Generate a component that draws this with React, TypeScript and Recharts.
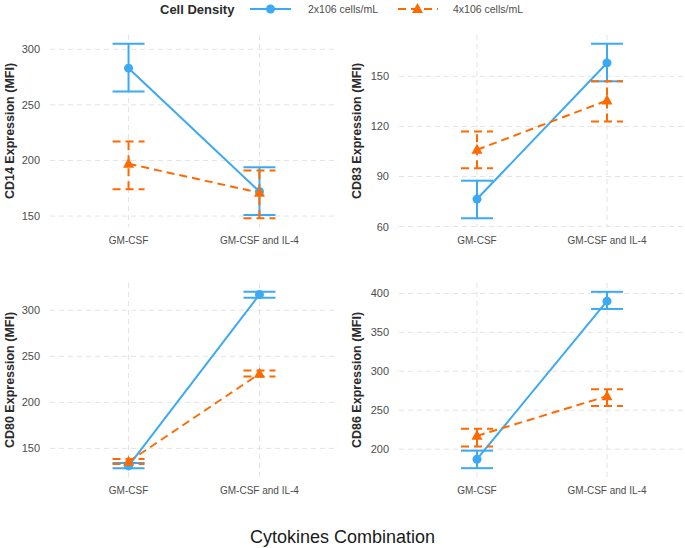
import React from 'react'
import { LineChart, Line, XAxis, YAxis, CartesianGrid, ErrorBar } from 'recharts'

const BLUE = '#3ba9f4'
const ORANGE = '#ff6a00'
const FONT = '"Liberation Sans", Arial, sans-serif'

const categories = ['GM-CSF', 'GM-CSF and IL-4']
const seriesNames = ['2x106 cells/mL', '4x106 cells/mL']

// CD14
const cd14Low = [283, 172]
const cd14LowMin = [262, 151]
const cd14LowMax = [305, 194]
const cd14High = [197, 171]
const cd14HighMin = [174, 148]
const cd14HighMax = [217, 191]

// CD83
const cd83Low = [76.5, 158]
const cd83LowMin = [65, 147]
const cd83LowMax = [87.5, 169.5]
const cd83High = [106, 135.5]
const cd83HighMin = [95, 123]
const cd83HighMax = [117, 147]

// CD80
const cd80Low = [131, 317]
const cd80LowMin = [128.5, 313.5]
const cd80LowMax = [134, 320]
const cd80High = [135.5, 231]
const cd80HighMin = [133, 228]
const cd80HighMax = [138.5, 234.5]

// CD86
const cd86Low = [187, 390]
const cd86LowMin = [175.5, 380]
const cd86LowMax = [198, 402]
const cd86High = [217, 268]
const cd86HighMin = [203.5, 255.5]
const cd86HighMax = [226, 277]

const catTicks = categories.map((_, i) => i + 1)

const buildData = (
  low: number[], lowMin: number[], lowMax: number[],
  high: number[], highMin: number[], highMax: number[]
) =>
  categories.map((c, i) => ({
    x: i + 1,
    name: c,
    low: low[i],
    lowErr: [low[i] - lowMin[i], lowMax[i] - low[i]],
    high: high[i],
    highErr: [high[i] - highMin[i], highMax[i] - high[i]],
  }))

// ggplot style 5% expansion of the data range
const expand = (mins: number[], maxs: number[]) => {
  const lo = Math.min(...mins)
  const hi = Math.max(...maxs)
  const pad = (hi - lo) * 0.05
  return [lo - pad, hi + pad]
}

const Triangle = (props: any) => {
  const { cx, cy, index } = props
  if (cx == null || cy == null) return <g key={index} />
  return (
    <path
      key={index}
      d={`M${cx},${cy - 6} L${cx + 5.5},${cy + 4} L${cx - 5.5},${cy + 4} Z`}
      fill={ORANGE}
    />
  )
}

type PanelProps = {
  left: number
  top: number
  width: number
  height: number
  marginTop: number
  marginRight: number
  yWidth: number
  titleOffset: number
  title: string
  ticks: number[]
  data: any[]
  domain: number[]
}

const Panel = (p: PanelProps) => (
  <div style={{ position: 'absolute', left: p.left, top: p.top }}>
    <LineChart
      width={p.width}
      height={p.height}
      data={p.data}
      margin={{ top: p.marginTop, right: p.marginRight, left: 0, bottom: 0 }}
    >
      <CartesianGrid stroke="#e3e3e3" strokeDasharray="5 4" syncWithTicks />
      <XAxis
        type="number"
        dataKey="x"
        domain={[0.4, 2.6]}
        ticks={catTicks}
        interval={0}
        tickFormatter={(v: number) => categories[v - 1]}
        axisLine={false}
        tickLine={false}
        tickSize={4}
        tickMargin={6}
        height={33}
        tick={{ fontSize: 10, fill: '#4d4d4d', fontFamily: FONT }}
      />
      <YAxis
        type="number"
        domain={p.domain}
        ticks={p.ticks}
        allowDataOverflow
        axisLine={false}
        tickLine={false}
        tickSize={5}
        tickMargin={5}
        width={p.yWidth}
        tick={{ fontSize: 11, fill: '#4d4d4d', fontFamily: FONT }}
        label={{
          value: p.title,
          angle: -90,
          position: 'insideLeft',
          offset: p.titleOffset,
          style: { textAnchor: 'middle', fontSize: 12.5, fontWeight: 'bold', fill: '#2b2b2b', fontFamily: FONT },
        }}
      />
      <Line
        type="linear"
        dataKey="low"
        stroke={BLUE}
        strokeWidth={2}
        dot={{ r: 4.5, fill: BLUE, stroke: BLUE, strokeWidth: 0 }}
        isAnimationActive={false}
      >
        <ErrorBar dataKey="lowErr" direction="y" width={16} stroke={BLUE} strokeWidth={2} />
      </Line>
      <Line
        type="linear"
        dataKey="high"
        stroke={ORANGE}
        strokeWidth={2}
        strokeDasharray="8 5"
        dot={Triangle}
        isAnimationActive={false}
      >
        <ErrorBar dataKey="highErr" direction="y" width={16} stroke={ORANGE} strokeWidth={2} strokeDasharray="8 5" />
      </Line>
    </LineChart>
  </div>
)

const Legend = () => (
  <svg width={685} height={22} style={{ position: 'absolute', left: 0, top: 0 }} fontFamily={FONT}>
    <text x={160} y={14} fontSize={13} fontWeight="bold" fill="#2b2b2b">Cell Density</text>
    <line x1={250} y1={9} x2={291} y2={9} stroke={BLUE} strokeWidth={2} />
    <circle cx={270.5} cy={9} r={4.5} fill={BLUE} />
    <text x={308} y={13} fontSize={10.5} fill="#4d4d4d">{seriesNames[0]}</text>
    <line x1={397} y1={9} x2={438} y2={9} stroke={ORANGE} strokeWidth={2} strokeDasharray="8 5" strokeDashoffset={-1} />
    <path d="M417.5,3 L423,13 L412,13 Z" fill={ORANGE} />
    <text x={453} y={13} fontSize={10.5} fill="#4d4d4d">{seriesNames[1]}</text>
  </svg>
)

export default function App() {
  const d14 = buildData(cd14Low, cd14LowMin, cd14LowMax, cd14High, cd14HighMin, cd14HighMax)
  const d83 = buildData(cd83Low, cd83LowMin, cd83LowMax, cd83High, cd83HighMin, cd83HighMax)
  const d80 = buildData(cd80Low, cd80LowMin, cd80LowMax, cd80High, cd80HighMin, cd80HighMax)
  const d86 = buildData(cd86Low, cd86LowMin, cd86LowMax, cd86High, cd86HighMin, cd86HighMax)

  return (
    <div style={{ position: 'absolute', left: 0, top: 0, width: 685, height: 548, background: '#fff', fontFamily: FONT }}>
      <Legend />
      <Panel
        left={0} top={0} width={340} height={260} marginTop={35} marginRight={2}
        yWidth={50} titleOffset={10} title="CD14 Expression (MFI)"
        ticks={[150, 200, 250, 300]} data={d14}
        domain={expand([...cd14LowMin, ...cd14HighMin], [...cd14LowMax, ...cd14HighMax])}
      />
      <Panel
        left={340} top={0} width={345} height={260} marginTop={35} marginRight={0}
        yWidth={59} titleOffset={17} title="CD83 Expression (MFI)"
        ticks={[60, 90, 120, 150]} data={d83}
        domain={expand([...cd83LowMin, ...cd83HighMin], [...cd83LowMax, ...cd83HighMax])}
      />
      <Panel
        left={0} top={260} width={340} height={250} marginTop={23} marginRight={2}
        yWidth={50} titleOffset={10} title="CD80 Expression (MFI)"
        ticks={[150, 200, 250, 300]} data={d80}
        domain={expand([...cd80LowMin, ...cd80HighMin], [...cd80LowMax, ...cd80HighMax])}
      />
      <Panel
        left={340} top={260} width={345} height={250} marginTop={23} marginRight={0}
        yWidth={59} titleOffset={17} title="CD86 Expression (MFI)"
        ticks={[200, 250, 300, 350, 400]} data={d86}
        domain={expand([...cd86LowMin, ...cd86HighMin], [...cd86LowMax, ...cd86HighMax])}
      />
      <div
        style={{
          position: 'absolute', left: 0, top: 527, width: 685, textAlign: 'center',
          fontSize: 18, color: '#1a1a1a', fontFamily: FONT,
        }}
      >
        Cytokines Combination
      </div>
    </div>
  )
}
